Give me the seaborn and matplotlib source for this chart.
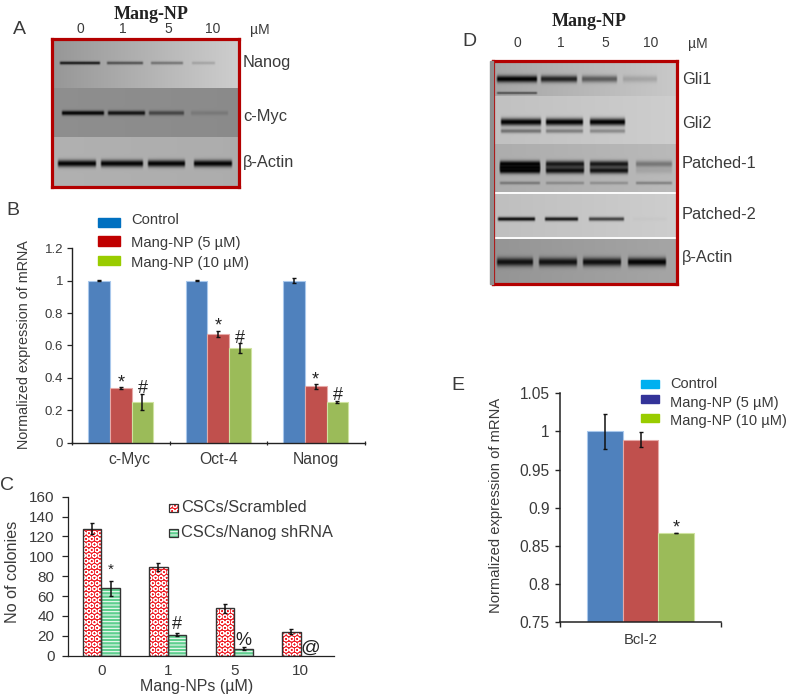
import numpy as np
import pandas as pd
import matplotlib
matplotlib.use("Agg")
import matplotlib.pyplot as plt
from matplotlib.patches import Rectangle
from matplotlib.transforms import ScaledTranslation
import seaborn as sns

# ---------- data ----------
b_genes = ["c-Myc", "Oct-4", "Nanog"]
b_groups = ["Control", "Mang-NP (5 µM)", "Mang-NP (10 µM)"]
b_control = [1.0, 1.0, 1.0]
b_5um = [0.335, 0.672, 0.348]
b_10um = [0.25, 0.585, 0.25]
b_control_err = [0.004, 0.004, 0.015]
b_5um_err = [0.006, 0.018, 0.016]
b_10um_err = [0.05, 0.03, 0.005]
b_ticks = [0, 0.2, 0.4, 0.6, 0.8, 1, 1.2]
b_ticklabels = ["0", "0.2", "0.4", "0.6", "0.8", "1", "1.2"]

c_doses = ["0", "1", "5", "10"]
c_groups = ["CSCs/Scrambled", "CSCs/Nanog shRNA"]
c_scrambled = [128, 89, 47.5, 24]
c_nanog = [68, 21, 7, 0]
c_scrambled_err = [6, 4, 5, 2.5]
c_nanog_err = [7.5, 1.5, 1.5, 0]
c_ticks = [0, 20, 40, 60, 80, 100, 120, 140, 160]

e_gene = ["Bcl-2"]
e_values = [1.0, 0.989, 0.867]
e_err = [0.023, 0.01, 0.0006]
e_ticks = [0.75, 0.8, 0.85, 0.9, 0.95, 1, 1.05]
e_ticklabels = ["0.75", "0.8", "0.85", "0.9", "0.95", "1", "1.05"]

# blot band darkness per lane (0, 1, 5, 10 µM)
lane_labels = ["0", "1", "5", "10"]
a_nanog = [0.80, 0.50, 0.35, 0.15]
a_cmyc = [0.95, 0.85, 0.50, 0.13]
a_actin = [0.97, 0.97, 0.97, 0.97]
d_gli1 = [0.98, 0.80, 0.50, 0.15]
d_gli2 = [0.98, 0.98, 0.98, 0.0]
d_gli2_low = [0.40, 0.35, 0.30, 0.0]
d_ptc1_top = [0.98, 0.85, 0.85, 0.35]
d_ptc1_mid = [0.95, 0.30, 0.20, 0.0]
d_ptc1_bot = [0.98, 0.90, 0.88, 0.10]
d_ptc1_low = [0.30, 0.22, 0.20, 0.28]
d_ptc2 = [0.90, 0.85, 0.65, 0.02]
d_actin = [0.88, 0.88, 0.90, 0.97]

# ---------- helpers ----------
W, H = 787, 698
sns.set_theme(style="ticks")
plt.rcParams["font.family"] = ["Liberation Sans", "DejaVu Sans"]
plt.rcParams["hatch.linewidth"] = 0.7
TXT = "#3a3a3a"
fig = plt.figure(figsize=(W / 100, H / 100), dpi=100, facecolor="white")


def px_axes(x0, y0, x1, y1):
    """axes from pixel box; y measured from the top of the figure"""
    return fig.add_axes([x0 / W, 1 - y1 / H, (x1 - x0) / W, (y1 - y0) / H])


def ptext(x, y, s, size=9, ha="left", color=TXT, **kw):
    fig.text(x / W, 1 - y / H, s, fontsize=size, ha=ha, va="center", color=color, **kw)


def blot(frame, sections, white_rows=()):
    x0, x1, y0, y1 = frame
    img = np.full((y1 - y0, x1 - x0), 200.0)
    xs = np.arange(x0, x1) + 0.5
    ys = np.arange(y0, y1) + 0.5
    for (top, bot, left, right, bands) in sections:
        mask = (ys >= top) & (ys < bot)
        bg = np.linspace(left, right, xs.size)
        sec = np.tile(bg, (mask.sum(), 1))
        yy = ys[mask][:, None]
        for yc, thick, lanes, dark in bands:
            for (a, b), d in zip(lanes, dark):
                edge = np.clip((xs - a) / 2, 0, 1) * np.clip((b - xs) / 2, 0, 1)
                prof = np.exp(-(((yy - yc) / thick) ** 2)) * edge
                sec = sec * (1 - d * prof)
        img[mask] = sec
    for r in white_rows:
        img[r - y0] = 250
    ax = px_axes(x0, y0, x1, y1)
    sns.heatmap(img, ax=ax, cmap="gray", vmin=0, vmax=255, cbar=False,
                xticklabels=False, yticklabels=False)
    for sp in ax.spines.values():
        sp.set_visible(True)
        sp.set_color("#b30000")
        sp.set_linewidth(2.3)
    return ax


def style_axis(ax, lw=1.0):
    sns.despine(ax=ax)
    for s in ("left", "bottom"):
        ax.spines[s].set_linewidth(lw)
        ax.spines[s].set_color("#222222")
    ax.set_xlabel("")
    ax.set_ylabel("")
    ax.patch.set_alpha(0)


def add_errs(ax, patches, errs):
    for p, e in zip(patches, errs):
        if e > 0:
            ax.errorbar(p.get_x() + p.get_width() / 2, p.get_height(), yerr=e,
                        color="#111111", elinewidth=1.1, capsize=1.7, capthick=1.0, zorder=5)


def mark(ax, patch, sym, err, off, size):
    ax.annotate(sym, (patch.get_x() + patch.get_width() / 2, patch.get_height() + err),
                xytext=(0, off), textcoords="offset pixels", ha="center", va="center",
                fontsize=size, color="#222222", zorder=6, annotation_clip=False)


BAR_COLORS = ["#4f81bd", "#c0504d", "#9bbb59"]
BAR_EDGES = ["#a9c8ec", "#e6a9a7", "#cfe3a0"]

# ---------- panel A ----------
lanes_a_n = [(59, 101), (106, 144), (150, 184), (191, 216)]
lanes_a_c = [(61, 105), (107, 146), (148, 185), (190, 229)]
lanes_a_b = [(57, 97), (100, 144), (147, 186), (193, 233)]
blot((52, 239, 39, 187), [
    (39, 88, 150, 205, [(63, 1.6, lanes_a_n, a_nanog)]),
    (88, 137, 142, 138, [(113, 2.3, lanes_a_c, a_cmyc)]),
    (137, 187, 176, 172, [(163.5, 3.4, lanes_a_b, a_actin)]),
])
ptext(19, 29, "A", 14, ha="center")
ptext(151, 14.5, "Mang-NP", 13, ha="center", family="Liberation Serif", weight="bold", color="#222222")
for x, s in zip([80, 123, 168, 213], lane_labels):
    ptext(x, 29, s, 10, ha="center")
ptext(250, 30, "µM", 10)
ptext(243, 63, "Nanog", 11.8)
ptext(243, 116, "c-Myc", 11.8)
ptext(243, 162, "β-Actin", 11.8)

# ---------- panel D ----------
fig.add_artist(Rectangle((490 / W, 1 - 284 / H), 3 / W, 223 / H, color="#8f8f8f",
                         transform=fig.transFigure))
lanes_d1 = [(496, 538), (540, 578), (581, 618), (622, 658)]
lanes_d2 = [(500, 542), (545, 584), (589, 626), (632, 668)]
lanes_d3 = [(499, 541), (545, 585), (589, 629), (635, 673)]
lanes_d4 = [(497, 536), (544, 579), (588, 625), (632, 668)]
lanes_d5 = [(496, 534), (538, 578), (582, 622), (627, 667)]
blot((493, 677, 61, 284), [
    (61, 96, 165, 200, [(79, 3.4, lanes_d1, d_gli1), (93, 1.3, lanes_d1, [0.5, 0, 0, 0])]),
    (96, 144, 192, 205, [(122, 3.6, lanes_d2, d_gli2), (131, 2.2, lanes_d2, d_gli2_low)]),
    (144, 193, 172, 185, [(164, 3.2, lanes_d3, d_ptc1_top), (167.5, 3.0, lanes_d3, d_ptc1_mid),
                          (170.5, 3.2, lanes_d3, d_ptc1_bot), (183, 1.6, lanes_d3, d_ptc1_low)]),
    (193, 238, 190, 205, [(219, 2.0, lanes_d4, d_ptc2)]),
    (238, 284, 148, 165, [(262, 4.2, lanes_d5, d_actin)]),
], white_rows=[192, 193, 237, 238])
ptext(469, 41, "D", 14, ha="center")
ptext(589, 21.5, "Mang-NP", 13, ha="center", family="Liberation Serif", weight="bold", color="#222222")
for x, s in zip([517, 561, 605, 651], lane_labels):
    ptext(x, 43, s, 10, ha="center")
ptext(688, 44, "µM", 10)
for y, s in zip([79, 123, 163, 215, 257], ["Gli1", "Gli2", "Patched-1", "Patched-2", "β-Actin"]):
    ptext(682, y, s, 11.8)

# ---------- panel B ----------
df_b = pd.DataFrame({
    "gene": b_genes * 3,
    "group": np.repeat(b_groups, 3),
    "value": b_control + b_5um + b_10um,
})
ax = px_axes(72, 248.3, 364.5, 442.7)
sns.barplot(df_b, x="gene", y="value", hue="group", ax=ax, palette=BAR_COLORS,
            width=0.667, gap=0, legend=False, errorbar=None, saturation=1)
ax.set_xlim(-0.5, 2.5)
ax.set_ylim(0, 1.2)
ax.set_yticks(b_ticks, b_ticklabels)
style_axis(ax)
ax.tick_params(axis="y", labelsize=9.5, labelcolor=TXT, length=3.5, width=0.9, pad=3)
ax.tick_params(axis="x", which="major", length=0, labelsize=11.3, labelcolor=TXT, pad=7)
ax.set_xticks([-0.5, 0.5, 1.5, 2.5], minor=True)
ax.tick_params(axis="x", which="minor", length=3, width=0.9, direction="inout")
lab0 = ax.get_xticklabels()[0]
lab0.set_transform(lab0.get_transform() + ScaledTranslation(9 / 100, 0, fig.dpi_scale_trans))
for cont, errs, edge in zip(ax.containers, [b_control_err, b_5um_err, b_10um_err], BAR_EDGES):
    for p in cont:
        p.set_edgecolor(edge)
        p.set_linewidth(0.8)
    add_errs(ax, cont, errs)
cs = ax.containers
mark(ax, cs[1][0], "*", b_5um_err[0], 4, 13)
mark(ax, cs[2][0], "#", b_10um_err[0], 6, 13)
mark(ax, cs[1][1], "*", b_5um_err[1], 5, 13)
mark(ax, cs[2][1], "#", b_10um_err[1], 5, 13)
mark(ax, cs[1][2], "*", b_5um_err[2], 4, 13)
mark(ax, cs[2][2], "#", b_10um_err[2], 6, 13)
ptext(13, 211, "B", 14, ha="center")
ptext(24, 345, "Normalized expression of mRNA", 10.4, ha="center", rotation=90)
for y, ty, c, s in zip([222.5, 241, 260.5], [220, 243, 263], ["#0070c0", "#c00000", "#99cc00"], b_groups):
    fig.add_artist(Rectangle((98 / W, 1 - (y + 4.7) / H), 22 / W, 9.4 / H, color=c,
                             transform=fig.transFigure))
    ptext(131, ty, s, 10.6)

# ---------- panel C ----------
df_c = pd.DataFrame({
    "dose": c_doses * 2,
    "group": np.repeat(c_groups, 4),
    "value": c_scrambled + c_nanog,
})
ax = px_axes(68, 496.7, 334, 655.7)
sns.barplot(df_c, x="dose", y="value", hue="group", ax=ax, palette=["#f01c24", "#5fcf8f"],
            width=0.56, gap=0, legend=False, errorbar=None, saturation=1)
ax.set_xlim(-0.5, 3.5)
ax.set_ylim(0, 160)
ax.set_yticks(c_ticks)
style_axis(ax, 0.9)
ax.tick_params(axis="y", labelsize=11, labelcolor=TXT, length=4.3, width=0.9, pad=5.5)
ax.tick_params(axis="x", length=0, labelsize=11, labelcolor=TXT, pad=6)
for cont, errs, hatch in zip(ax.containers, [c_scrambled_err, c_nanog_err], ["OOO", "-----"]):
    for p in cont:
        p.set_edgecolor("white")
        p.set_hatch(hatch)
        p.set_linewidth(0)
        if p.get_height() > 0:
            ax.add_patch(Rectangle(p.get_xy(), p.get_width(), p.get_height(), fill=False,
                                   ec="#333333", lw=1.0, zorder=4))
    add_errs(ax, cont, errs)
cs = ax.containers
mark(ax, cs[1][0], "*", c_nanog_err[0], 11, 11)
mark(ax, cs[1][1], "#", c_nanog_err[1], 9, 13)
mark(ax, cs[1][2], "%", c_nanog_err[2], 7, 13)
mark(ax, cs[1][3], "@", 0, 7, 14)
ptext(7, 486, "C", 14, ha="center")
ptext(13, 572, "No of colonies", 11.6, ha="center", rotation=90)
ptext(197, 686, "Mang-NPs (µM)", 11.5, ha="center")
for y, c, h, s in zip([508, 533], ["#f01c24", "#5fcf8f"], ["OOO", "-----"], c_groups):
    fig.add_artist(Rectangle((169 / W, 1 - (y + 4) / H), 9 / W, 8 / H, facecolor=c, edgecolor="white",
                             hatch=h, lw=0, transform=fig.transFigure))
    fig.add_artist(Rectangle((169 / W, 1 - (y + 4) / H), 9 / W, 8 / H, fill=False, edgecolor="#333333",
                             lw=0.9, transform=fig.transFigure))
    ptext(181, y, s, 11.8)

# ---------- panel E ----------
df_e = pd.DataFrame({"gene": e_gene * 3, "group": b_groups, "value": e_values})
ax = px_axes(560, 393.3, 721, 622.3)
sns.barplot(df_e, x="gene", y="value", hue="group", ax=ax, palette=BAR_COLORS,
            width=0.66, gap=0, legend=False, errorbar=None, saturation=1)
ax.set_xlim(-0.5, 0.5)
ax.set_ylim(0.75, 1.05)
ax.set_yticks(e_ticks, e_ticklabels)
style_axis(ax, 1.1)
ax.tick_params(axis="y", labelsize=11.2, labelcolor=TXT, length=3.5, width=1.0, pad=4)
ax.tick_params(axis="x", which="major", length=0, labelsize=10.7, labelcolor=TXT, pad=8)
ax.set_xticks([-0.5, 0.5], minor=True)
ax.tick_params(axis="x", which="minor", length=3.5, width=1.0, direction="out")
patches = [c[0] for c in ax.containers]
for p, edge in zip(patches, BAR_EDGES):
    p.set_edgecolor(edge)
    p.set_linewidth(0.8)
add_errs(ax, patches, e_err)
mark(ax, patches[2], "*", e_err[2], 5, 13)
ptext(458, 386, "E", 14, ha="center")
ptext(496, 505, "Normalized expression of mRNA", 10.6, ha="center", rotation=90)
for y, ty, c, s in zip([384, 399, 418], [384, 403, 421], ["#00b0f0", "#333399", "#99cc00"], b_groups):
    fig.add_artist(Rectangle((641 / W, 1 - (y + 4) / H), 18 / W, 8 / H, color=c,
                             transform=fig.transFigure))
    ptext(670, ty, s, 10.5)

fig.savefig("out.png", dpi=100, facecolor="white")
